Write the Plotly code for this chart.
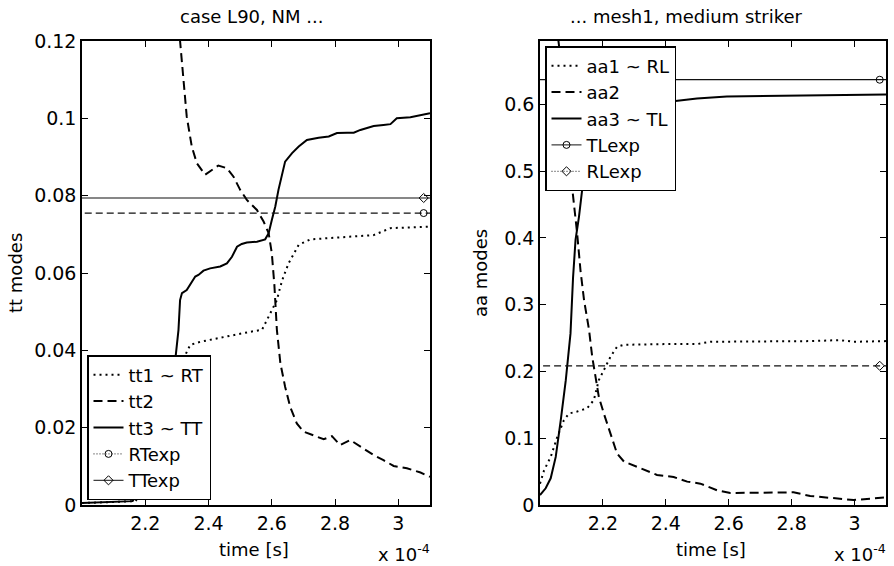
import plotly.graph_objects as go

# ---------------- data (time in units of 1e-4 s) ----------------
tt1_t = [2.0, 2.1, 2.17, 2.22, 2.27, 2.31, 2.331, 2.342, 2.373, 2.426, 2.479, 2.532, 2.569, 2.59, 2.605,
         2.616, 2.627, 2.637, 2.653, 2.669, 2.685, 2.722, 2.785, 2.848, 2.922, 2.975, 3.10]
tt1_v = [0.0005, 0.0008, 0.001, 0.01, 0.025, 0.036, 0.0397, 0.0414, 0.0422, 0.0431, 0.044, 0.0448, 0.0453,
         0.0487, 0.0513, 0.053, 0.0565, 0.0591, 0.0625, 0.0651, 0.0673, 0.0687, 0.069, 0.0694, 0.0698, 0.0716, 0.072]

tt2_t = [2.25, 2.29, 2.31, 2.319, 2.331, 2.347, 2.363, 2.389, 2.431, 2.458, 2.479, 2.5, 2.521, 2.553, 2.574,
         2.59, 2.60, 2.608, 2.616, 2.627, 2.642, 2.658, 2.679, 2.70, 2.732, 2.764, 2.79, 2.816, 2.848, 2.88,
         2.922, 2.953, 2.985, 3.027, 3.07, 3.10]
tt2_v = [0.16, 0.13, 0.12, 0.1108, 0.1005, 0.0927, 0.0884, 0.0854, 0.0878, 0.0871, 0.0849, 0.0815, 0.0789,
         0.0763, 0.0733, 0.0703, 0.0651, 0.0570, 0.0453, 0.0367, 0.0306, 0.0254, 0.0211, 0.019, 0.0181, 0.017,
         0.0178, 0.0155, 0.0168, 0.0151, 0.0129, 0.0116, 0.0101, 0.0095, 0.0084, 0.0073]

tt3_t = [2.0, 2.1, 2.16, 2.2, 2.24, 2.27, 2.29, 2.297, 2.305, 2.31, 2.316, 2.331, 2.342, 2.358, 2.368, 2.384,
         2.405, 2.437, 2.458, 2.474, 2.49, 2.505, 2.521, 2.553, 2.579, 2.59, 2.6, 2.611, 2.621, 2.632, 2.642,
         2.664, 2.685, 2.711, 2.748, 2.78, 2.806, 2.838, 2.859, 2.88, 2.922, 2.953, 2.975, 2.995, 3.038, 3.10]
tt3_v = [0.0005, 0.0008, 0.001, 0.006, 0.015, 0.026, 0.034, 0.0392, 0.0453, 0.053, 0.0548, 0.0556, 0.0569,
         0.0591, 0.0595, 0.0606, 0.0612, 0.0617, 0.0625, 0.0642, 0.0668, 0.0675, 0.0679, 0.0681, 0.0687, 0.0703,
         0.0737, 0.0772, 0.0815, 0.0858, 0.0888, 0.091, 0.0927, 0.0944, 0.095, 0.0953, 0.0962, 0.0963, 0.0963,
         0.097, 0.098, 0.0983, 0.0985, 0.1, 0.1003, 0.1013]

RTexp = 0.0755
TTexp = 0.0794

aa1_t = [2.0, 2.013, 2.034, 2.055, 2.076, 2.092, 2.118, 2.15, 2.171, 2.187, 2.203, 2.224, 2.245, 2.267, 2.394,
         2.499, 2.542, 2.648, 2.753, 2.859, 2.953, 2.997, 3.10]
aa1_v = [0.032, 0.052, 0.072, 0.102, 0.127, 0.137, 0.140, 0.145, 0.157, 0.187, 0.202, 0.222, 0.237, 0.240,
         0.241, 0.241, 0.2445, 0.2445, 0.2455, 0.2455, 0.247, 0.2445, 0.2455]

aa2_t = [2.03, 2.06, 2.08, 2.103, 2.118, 2.129, 2.14, 2.156, 2.166, 2.177, 2.187, 2.203, 2.224, 2.245, 2.267,
         2.309, 2.372, 2.425, 2.468, 2.51, 2.563, 2.605, 2.70, 2.806, 2.859, 2.944, 2.997, 3.10]
aa2_v = [0.80, 0.69, 0.60, 0.472, 0.407, 0.35, 0.307, 0.262, 0.222, 0.187, 0.162, 0.137, 0.107, 0.077, 0.065,
         0.057, 0.045, 0.042, 0.035, 0.032, 0.022, 0.018, 0.019, 0.019, 0.0135, 0.010, 0.0075, 0.0115]

aa3_t = [2.0, 2.018, 2.034, 2.05, 2.066, 2.082, 2.097, 2.105, 2.113, 2.124, 2.134, 2.15, 2.18, 2.22, 2.3, 2.4,
         2.452, 2.499, 2.594, 2.70, 2.859, 3.018, 3.10]
aa3_v = [0.015, 0.025, 0.040, 0.072, 0.127, 0.187, 0.257, 0.34, 0.397, 0.432, 0.472, 0.53, 0.575, 0.592, 0.598,
         0.603, 0.606, 0.609, 0.612, 0.6127, 0.614, 0.614, 0.615]

TLexp = 0.637
RLexp = 0.2085

exp_marker_t = 3.08
x_range = [2.0, 3.1]
x_ticks = [2.2, 2.4, 2.6, 2.8, 3.0]
tt_ticks = [0, 0.02, 0.04, 0.06, 0.08, 0.1, 0.12]
aa_ticks = [0, 0.1, 0.2, 0.3, 0.4, 0.5, 0.6]

# ---------------- figure ----------------
W, H = 894, 566
FONT = "DejaVu Sans, Arial, Helvetica, sans-serif"
DOT = "2px,4px"
DASH = "9px,5px"
THIN_DASH = "7px,4px"

fig = go.Figure()


def px_x(p):
    return p / W


def px_y(p):
    return 1 - p / H


def curve(t, v, name, dash, xa, ya, leg):
    fig.add_trace(go.Scatter(x=t, y=v, mode="lines", name=name, xaxis=xa, yaxis=ya, legend=leg,
                             line=dict(color="black", width=2, dash=dash)))


def exp_line(val, dash, sym, name, legdash, xa, ya, leg):
    fig.add_trace(go.Scatter(x=[x_range[0] - 0.2, x_range[1] + 0.2], y=[val, val], mode="lines",
                             showlegend=False, xaxis=xa, yaxis=ya, hoverinfo="skip",
                             line=dict(color="#111111", width=1.2, dash=dash)))
    fig.add_trace(go.Scatter(x=[exp_marker_t], y=[val], mode="lines+markers", name=name, xaxis=xa, yaxis=ya,
                             legend=leg, line=dict(color="#111111", width=1, dash=legdash),
                             marker=dict(symbol=sym, size=7, color="black", line=dict(width=1, color="black"))))


# left panel
curve(tt1_t, tt1_v, "tt1 ~ RT", DOT, "x", "y", "legend")
curve(tt2_t, tt2_v, "tt2", DASH, "x", "y", "legend")
curve(tt3_t, tt3_v, "tt3 ~ TT", "solid", "x", "y", "legend")
exp_line(RTexp, THIN_DASH, "circle-open", "RTexp", "1px,2px", "x", "y", "legend")
exp_line(TTexp, "solid", "diamond-open", "TTexp", "solid", "x", "y", "legend")

# right panel
curve(aa1_t, aa1_v, "aa1 ~ RL", DOT, "x2", "y2", "legend2")
curve(aa2_t, aa2_v, "aa2", DASH, "x2", "y2", "legend2")
curve(aa3_t, aa3_v, "aa3 ~ TL", "solid", "x2", "y2", "legend2")
exp_line(TLexp, "solid", "circle-open", "TLexp", "solid", "x2", "y2", "legend2")
exp_line(RLexp, THIN_DASH, "diamond-open", "RLexp", "1px,2px", "x2", "y2", "legend2")

axis_common = dict(showline=True, linecolor="black", linewidth=1.5, mirror="allticks", ticks="inside",
                   ticklen=6, tickwidth=1, tickcolor="black", showgrid=False, zeroline=False,
                   automargin=False, tickfont=dict(family=FONT, size=19, color="black"))

y_dom = [1 - 505 / H, 1 - 41 / H]

fig.update_layout(
    template="none",
    width=W, height=H, margin=dict(l=0, r=0, t=0, b=0, pad=0),
    paper_bgcolor="white", plot_bgcolor="white",
    xaxis=dict(domain=[82 / W, 430 / W], range=x_range, tickvals=x_ticks, anchor="y", **axis_common),
    yaxis=dict(domain=y_dom, range=[0, 0.12], tickvals=tt_ticks, anchor="x", **axis_common),
    xaxis2=dict(domain=[540 / W, 886 / W], range=x_range, tickvals=x_ticks, anchor="y2", **axis_common),
    yaxis2=dict(domain=y_dom, range=[0, 0.695], tickvals=aa_ticks, anchor="x2", **axis_common),
    legend=dict(x=px_x(87), y=px_y(355), xanchor="left", yanchor="top", bgcolor="white",
                bordercolor="black", borderwidth=1.5, font=dict(family=FONT, size=18, color="black"),
                itemwidth=30, tracegroupgap=0),
    legend2=dict(x=px_x(545), y=px_y(46), xanchor="left", yanchor="top", bgcolor="white",
                 bordercolor="black", borderwidth=1.5, font=dict(family=FONT, size=18, color="black"),
                 itemwidth=30, tracegroupgap=0),
    showlegend=True,
)

ann_font = dict(family=FONT, size=18, color="black")
annotations = [
    dict(text="case L90, NM ...", x=px_x(252), y=px_y(17)),
    dict(text="... mesh1, medium striker", x=px_x(686), y=px_y(17)),
    dict(text="time [s]", x=px_x(254), y=px_y(549)),
    dict(text="time [s]", x=px_x(711), y=px_y(549)),
    dict(text="tt modes", x=px_x(15), y=px_y(273), textangle=-90),
    dict(text="aa modes", x=px_x(480), y=px_y(273), textangle=-90),
    dict(text="x 10<sup>-4</sup>", x=px_x(432), y=px_y(553), xanchor="right"),
    dict(text="x 10<sup>-4</sup>", x=px_x(888), y=px_y(553), xanchor="right"),
]
for a in annotations:
    a.setdefault("xanchor", "center")
    fig.add_annotation(xref="paper", yref="paper", yanchor="middle", showarrow=False, font=ann_font, **a)

fig.write_html("out.html", config={"displayModeBar": False},
               post_script="document.body.style.margin='0';")
